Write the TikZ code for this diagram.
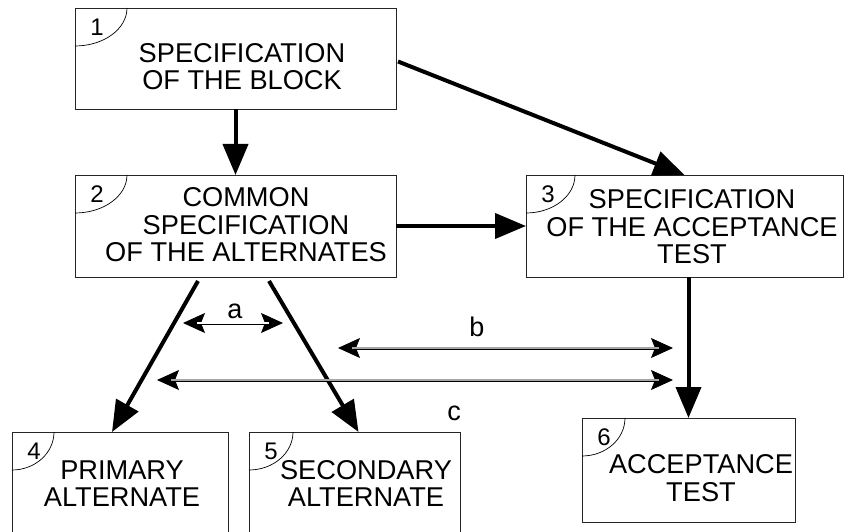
\documentclass[tikz,border=0pt]{standalone}
\usepackage{fontspec}
\setmainfont{Liberation Sans}
\usetikzlibrary{arrows.meta}
\usetikzlibrary{calc}
\tikzset{
  block/.style={draw=black!85, line width=0.9pt, inner sep=0pt, outer sep=0pt, anchor=north west},
  block-text/.style={align=center, inner sep=0pt, font=\fontsize{27.2}{27.5}\selectfont},
  block-number/.style={inner sep=0pt, font=\fontsize{24}{24}\selectfont},
  flow-path/.style={line width=4pt, -{Triangle[length=31pt, width=25pt]}},
  span-path/.style={line width=1pt,
    {Stealth[length=22pt, width=20pt, inset=4pt]}-{Stealth[length=22pt, width=20pt, inset=4pt]},
    preaction={draw=black, line width=3pt, -, shorten <=12pt, shorten >=12pt},
    postaction={draw=#1, line width=1.3pt, -, shorten <=14pt, shorten >=14pt}},
  span-path/.default=gray!70,
  span-label/.style={inner sep=0pt, font=\fontsize{27}{27}\selectfont},
}
% block with the numbered corner
\newcommand{\tikzblock}[7]{%
\node[block, minimum width=#4, minimum height=#5] (#1) at (#2,#3) {};
\draw[line width=0.7pt] ($(#1.north west)+(#6,0)$) arc[start angle=0, end angle=90, x radius=#6, y radius=38];
\node[block-number] (#1-num) at ($(#1.north west)+(22,19)$) {#7};
}

\begin{document}
\begin{tikzpicture}[x=1pt, y=-1pt]
\useasboundingbox (0,0) rectangle (847,532);
% blocks
\tikzblock{b1}{75}{8}{321pt}{101pt}{52}{1}
\tikzblock{b2}{75}{175}{321pt}{102pt}{52}{2}
\tikzblock{b3}{526}{175}{317pt}{102pt}{49}{3}
\tikzblock{b4}{12}{432}{216pt}{110pt}{42}{4}
\tikzblock{b5}{249}{432}{211pt}{110pt}{44}{5}
\tikzblock{b6}{582}{418}{213pt}{104pt}{43}{6}
\node[block-text] (b1-text) at (242,66.5) {SPECIFICATION\\OF THE BLOCK};
\node[block-text] (b2-text) at (246,225) {COMMON\\SPECIFICATION\\OF THE ALTERNATES};
\node[block-text] (b3-text) at (692,227) {SPECIFICATION\\OF THE ACCEPTANCE\\TEST};
\node[block-text] (b4-text) at (122,483.5) {PRIMARY\\ALTERNATE};
\node[block-text] (b5-text) at (366,483.5) {SECONDARY\\ALTERNATE};
\node[block-text] (b6-text) at (701,478) {ACCEPTANCE\\TEST};
% flow
\draw[flow-path] (b1.south) -- (b2.north);
\draw[flow-path] ($(b1.east)+(2,3)$) -- (b3.north);
\draw[flow-path] (b2.east) -- (b3.west);
\draw[flow-path] ($(b2.south west)+(123,4)$) -- ($(b4.north)+(-8,0)$);
\draw[flow-path] ($(b2.south west)+(194,4)$) -- ($(b5.north)+(4,0)$);
\draw[flow-path] (b6.north |- b3.south) -- (b6.north);
% spans
\coordinate (a-left) at (183,323);
\coordinate (a-right) at (283,323);
\coordinate (b-left) at (338,348);
\coordinate (b-right) at (673,348);
\coordinate (c-left) at (157,380);
\coordinate (c-right) at (673,380);
\draw[span-path=white] (a-left) -- (a-right);
\draw[span-path] (b-left) -- (b-right);
\draw[span-path] (c-left) -- (c-right);
\node[span-label] (a-label) at (235,311) {a};
\node[span-label] (b-label) at (477,327) {b};
\node[span-label] (c-label) at (454,413) {c};
\end{tikzpicture}
\end{document}
